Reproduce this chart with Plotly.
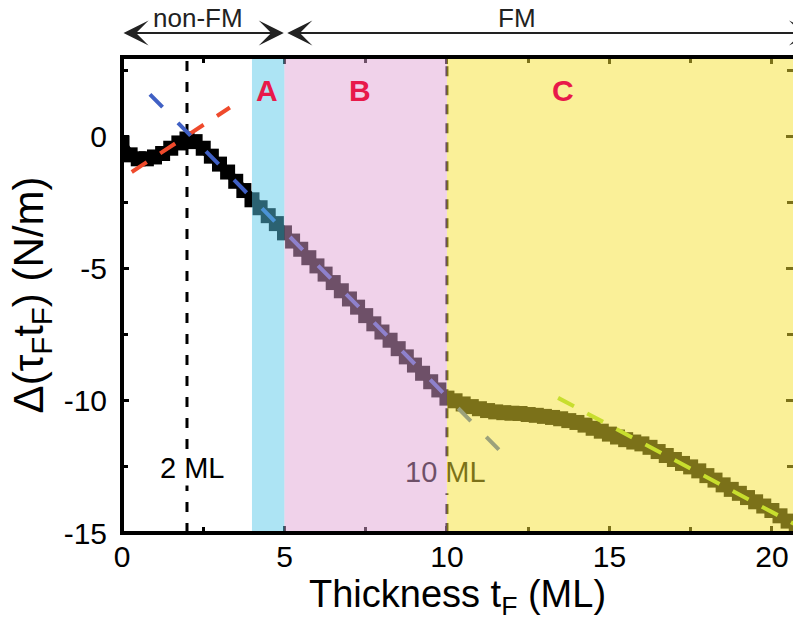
import plotly.graph_objects as go

# ---------------- data ----------------
thickness = [0.0, 0.25, 0.5, 0.75, 1.0, 1.25, 1.5, 1.75, 2.0, 2.25, 2.5, 2.75,
             3.0, 3.25, 3.5, 3.75, 4.0, 4.25, 4.5, 4.75, 5.0, 5.25, 5.5, 5.75,
             6.0, 6.25, 6.5, 6.75, 7.0, 7.25, 7.5, 7.75, 8.0, 8.25, 8.5, 8.75,
             9.0, 9.25, 9.5, 9.75, 10.0, 10.25, 10.5, 10.75, 11.0, 11.25, 11.5, 11.75,
             12.0, 12.25, 12.5, 12.75, 13.0, 13.25, 13.5, 13.75, 14.0, 14.25, 14.5, 14.75,
             15.0, 15.25, 15.5, 15.75, 16.0, 16.25, 16.5, 16.75, 17.0, 17.25, 17.5, 17.75,
             18.0, 18.25, 18.5, 18.75, 19.0, 19.25, 19.5, 19.75, 20.0, 20.25, 20.5, 20.75]
torque = [-0.25, -0.7, -0.85, -0.85, -0.78, -0.65, -0.45, -0.25, -0.1, -0.2, -0.45, -0.75,
          -1.05, -1.35, -1.7, -2.05, -2.4, -2.7, -3.0, -3.3, -3.65, -3.96, -4.27, -4.59,
          -4.90, -5.21, -5.53, -5.84, -6.15, -6.46, -6.78, -7.09, -7.40, -7.71, -8.03, -8.34,
          -8.65, -8.96, -9.28, -9.59, -9.90, -10.0, -10.12, -10.22, -10.3, -10.37, -10.42, -10.45,
          -10.47, -10.48, -10.52, -10.55, -10.59, -10.63, -10.68, -10.75, -10.82, -10.92, -11.04, -11.15,
          -11.26, -11.37, -11.47, -11.56, -11.63, -11.76, -11.92, -12.07, -12.22, -12.37, -12.5, -12.65,
          -12.83, -13.0, -13.18, -13.35, -13.5, -13.66, -13.82, -13.98, -14.15, -14.35, -14.55, -14.75]

red_fit_x = [0.3, 3.32]
red_fit_y = [-1.35, 1.09]
blue_fit_x = [0.86, 11.6]
blue_fit_y = [1.59, -11.85]
green_fit_x = [13.42, 20.8]
green_fit_y = [-9.89, -14.73]

region_names = ["A", "B", "C"]
region_start = [4.0, 5.0, 10.0]
region_end = [5.0, 10.0, 21.0]
region_label_x = [4.46, 7.33, 13.57]
region_label_y = [1.75, 1.75, 1.75]

marker_lines_x = [2.0, 10.0]
phase_names = ["non-FM", "FM"]
phase_start = [0.0, 5.04]
phase_end = [4.98, 21.3]
phase_label_x = [2.34, 12.15]

x_range = [0, 20.65]
y_range = [-15, 3]
x_tickvals = [0, 5, 10, 15, 20]
x_ticktext = ["0", "5", "10", "15", "20"]
y_tickvals = [-15, -10, -5, 0]
y_ticktext = ["-15", "-10", "-5", "0"]

# ---------------- style ----------------
FONT = "Liberation Sans, Arial, sans-serif"
region_fill = ["rgba(88,200,233,0.49)", "rgba(224,163,212,0.49)", "rgba(246,226,50,0.5)"]
label_red = "#e8194a"

fig = go.Figure()

# vertical dashed reference lines (under the colour overlay)
fig.add_trace(go.Scatter(x=[marker_lines_x[0], marker_lines_x[0]], y=y_range, mode="lines",
                         line=dict(color="black", width=3, dash="10px,11px"),
                         hoverinfo="skip", showlegend=False))
fig.add_trace(go.Scatter(x=[marker_lines_x[1], marker_lines_x[1], None, marker_lines_x[1], marker_lines_x[1]],
                         y=[y_range[0], -13.5, None, -12.1, y_range[1]], mode="lines",
                         line=dict(color="black", width=3, dash="10px,9px"),
                         hoverinfo="skip", showlegend=False))

# data: thick band of square markers
fig.add_trace(go.Scatter(x=thickness, y=torque, mode="lines+markers",
                         line=dict(color="black", width=9),
                         marker=dict(symbol="square", size=15, color="black", line=dict(width=0)),
                         showlegend=False))

# fits
fig.add_trace(go.Scatter(x=red_fit_x, y=red_fit_y, mode="lines",
                         line=dict(color="#ef4a2c", width=4, dash="18px,16px"),
                         showlegend=False))
fig.add_trace(go.Scatter(x=blue_fit_x, y=blue_fit_y, mode="lines",
                         line=dict(color="#4060c4", width=4, dash="18px,22px"),
                         showlegend=False))

# "10 ML" label (under overlay)
fig.add_trace(go.Scatter(x=[9.95], y=[-12.8], mode="text", text=["10 ML"],
                         textfont=dict(family=FONT, size=29, color="black"),
                         textposition="middle center", showlegend=False))

# colour overlays
for s, e, c in zip(region_start, region_end, region_fill):
    fig.add_trace(go.Scatter(x=[s, e, e, s, s],
                             y=[y_range[0], y_range[0], y_range[1], y_range[1], y_range[0]],
                             mode="lines", fill="toself", fillcolor=c,
                             line=dict(width=0), hoverinfo="skip", showlegend=False))

# green fit on top
fig.add_trace(go.Scatter(x=green_fit_x, y=green_fit_y, mode="lines",
                         line=dict(color="#c8de2e", width=4, dash="18px,15px"),
                         showlegend=False))

annotations = []
for name, lx, ly in zip(region_names, region_label_x, region_label_y):
    annotations.append(dict(x=lx, y=ly, xref="x", yref="y", text="<b>%s</b>" % name,
                            showarrow=False, font=dict(family=FONT, size=30, color=label_red)))

annotations.append(dict(x=2.15, y=-12.54, xref="x", yref="y", text="2 ML", showarrow=False,
                        bgcolor="white", borderpad=1,
                        font=dict(family=FONT, size=29, color="black")))

# phase arrows above the plot
def xpaper(v):
    return (v - x_range[0]) / (x_range[1] - x_range[0])

arrow_y = 1 + 24 / 476.0
label_y = 1 + 39 / 476.0
for name, s, e, lx in zip(phase_names, phase_start, phase_end, phase_label_x):
    annotations.append(dict(x=e, y=arrow_y, xref="x", yref="paper",
                            ax=s, ay=0, axref="x", ayref="pixel", text="", showarrow=True,
                            arrowhead=3, startarrowhead=3, arrowside="end+start",
                            arrowsize=1.9, startarrowsize=1.9, arrowwidth=2.2,
                            arrowcolor="#222222", standoff=0, startstandoff=0))
    annotations.append(dict(x=xpaper(lx), y=label_y, xref="paper", yref="paper", text=name,
                            xanchor="center", yanchor="middle", showarrow=False,
                            font=dict(family=FONT, size=26, color="#222222")))

frame = dict(color="black", width=4)
shapes = [
    dict(type="line", xref="paper", yref="paper", x0=0, x1=0, y0=-0.004, y1=1.004, line=frame, layer="above"),
    dict(type="line", xref="paper", yref="paper", x0=0, x1=1.02, y0=0, y1=0, line=frame, layer="above"),
    dict(type="line", xref="paper", yref="paper", x0=0, x1=1.02, y0=1, y1=1, line=frame, layer="above"),
]

tick_common = dict(ticks="inside", ticklen=7, tickwidth=2.5, tickcolor="black",
                   showgrid=False, zeroline=False, showline=False, mirror="ticks",
                   layer="below traces", automargin=False,
                   tickfont=dict(family=FONT, size=30, color="black"))

fig.update_layout(
    width=793, height=626,
    margin=dict(l=122, r=0, t=57, b=93, autoexpand=False),
    paper_bgcolor="white", plot_bgcolor="white",
    showlegend=False,
    annotations=annotations,
    shapes=shapes,
    xaxis=dict(range=x_range, tickmode="array", tickvals=x_tickvals, ticktext=x_ticktext,
               minor=dict(tickmode="linear", tick0=0, dtick=2.5, ticks="inside", ticklen=6,
                          tickwidth=2.5, tickcolor="black"),
               ticklabelstandoff=3,
               title=dict(text="Thickness t<sub>F</sub> (ML)", standoff=4,
                          font=dict(family=FONT, size=38, color="black")),
               **tick_common),
    yaxis=dict(range=y_range, tickmode="array", tickvals=y_tickvals, ticktext=y_ticktext,
               minor=dict(tickmode="linear", tick0=0, dtick=2.5, ticks="inside", ticklen=6,
                          tickwidth=2.5, tickcolor="black"),
               ticklabelstandoff=14,
               title=dict(text="Δ(τ<sub>F</sub>t<sub>F</sub>) (N/m)", standoff=6,
                          font=dict(family=FONT, size=42, color="black")),
               **tick_common),
)

fig.write_html("out.html", config={"displayModeBar": False},
               post_script="document.body.style.margin='0';document.body.style.overflow='hidden';")
